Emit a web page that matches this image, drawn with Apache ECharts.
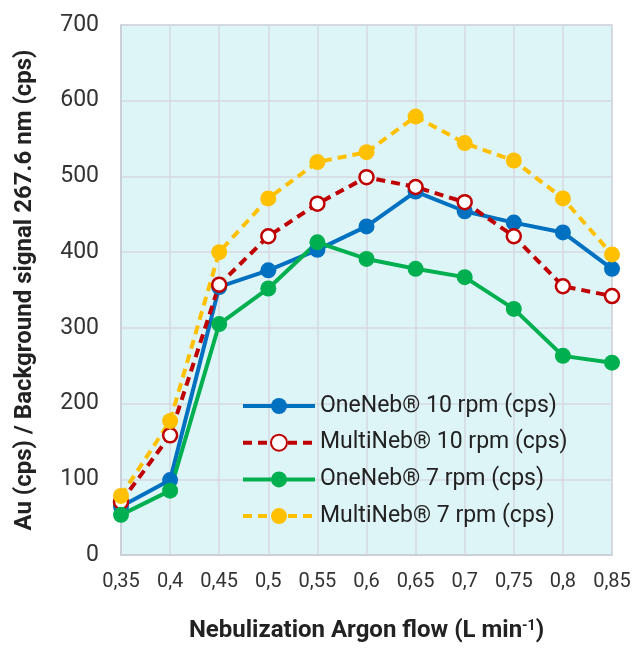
<!DOCTYPE html>
<html>
<head>
<meta charset="utf-8">
<script src="https://cdn.jsdelivr.net/npm/echarts@6/dist/echarts.min.js"></script>
<style>
  html, body { margin: 0; padding: 0; background: #fff; }
  #main { width: 644px; height: 648px; }
</style>
</head>
<body>
<div id="main"></div>
<script>
// flujo de argon (L/min)
var flows = ['0,35', '0,4', '0,45', '0,5', '0,55', '0,6', '0,65', '0,7', '0,75', '0,8', '0,85'];
var oneNeb10 = [64, 99, 354, 376, 403, 434, 480, 454, 439, 426, 378];
var multiNeb10 = [70, 158, 357, 421, 464, 499, 486, 466, 421, 355, 342];
var oneNeb7 = [53, 85, 305, 352, 413, 391, 378, 367, 325, 263, 254];
var multiNeb7 = [78, 177, 400, 471, 519, 532, 579, 544, 521, 471, 397];
var yTicks = [0, 100, 200, 300, 400, 500, 600, 700];

var FONT = 'Roboto';

function serie(name, data, color, dashed, hollow) {
    return {
        name: name,
        type: 'line',
        data: data,
        symbol: 'circle',
        symbolSize: hollow ? 14 : 16,
        showAllSymbol: true,
        lineStyle: { color: color, width: 4, type: dashed ? [9, 6] : 'solid' },
        itemStyle: {
            color: hollow ? '#ffffff' : color,
            borderColor: color,
            borderWidth: hollow ? 2.5 : 0
        },
        emphasis: { disabled: true }
    };
}

var myChart = echarts.init(document.getElementById('main'));
var option = {
    animation: false,
    textStyle: { fontFamily: FONT },
    grid: {
        left: 121, right: 32, top: 25, bottom: 91,
        show: true,
        backgroundColor: '#def5f8',
        borderColor: '#c9cdd5',
        borderWidth: 1.5
    },
    legend: {
        orient: 'vertical',
        left: 236, top: 389,
        itemWidth: 72, itemHeight: 20, itemGap: 12.7,
        lineStyle: { width: 4 },
        textStyle: { fontSize: 23, lineHeight: 24, color: '#222', fontFamily: FONT },
        data: ['OneNeb® 10 rpm (cps)', 'MultiNeb® 10 rpm (cps)', 'OneNeb® 7 rpm (cps)', 'MultiNeb® 7 rpm (cps)']
    },
    xAxis: {
        type: 'category',
        data: flows,
        boundaryGap: false,
        axisLine: { show: true, lineStyle: { color: '#c9cdd5', width: 1.5 } },
        axisTick: { show: false },
        axisLabel: { fontSize: 20, color: '#333', margin: 17, fontFamily: FONT },
        splitLine: { show: true, interval: 0, lineStyle: { color: '#d5d9e0', width: 1.5 } },
        name: '{a|Nebulization Argon flow (L min}{sup|-1}{a|)}',
        nameLocation: 'middle',
        nameGap: 64,
        nameTextStyle: {
            fontSize: 24, fontWeight: 'bold', color: '#222', fontFamily: FONT,
            rich: {
                a: { fontSize: 24, fontWeight: 'bold', color: '#222', fontFamily: FONT },
                sup: { fontSize: 14, fontWeight: 'bold', color: '#222', fontFamily: FONT, padding: [0, 0, 10, 0] }
            }
        }
    },
    yAxis: {
        type: 'value',
        min: yTicks[0], max: yTicks[yTicks.length - 1], interval: 100,
        axisLine: { show: true, lineStyle: { color: '#c9cdd5', width: 1.5 } },
        axisTick: { show: false },
        axisLabel: { fontSize: 23, color: '#333', margin: 22, fontFamily: FONT },
        splitLine: { show: true, lineStyle: { color: '#d5d9e0', width: 1.5 } },
        name: 'Au (cps) / Background signal 267.6 nm (cps)',
        nameLocation: 'middle',
        nameRotate: 90,
        nameGap: 84,
        nameTextStyle: { fontSize: 24, fontWeight: 'bold', color: '#222', fontFamily: FONT }
    },
    series: [
        serie('OneNeb® 10 rpm (cps)', oneNeb10, '#0070c0', false, false),
        serie('MultiNeb® 10 rpm (cps)', multiNeb10, '#c00000', true, true),
        serie('OneNeb® 7 rpm (cps)', oneNeb7, '#00b050', false, false),
        serie('MultiNeb® 7 rpm (cps)', multiNeb7, '#ffc000', true, false)
    ]
};
myChart.setOption(option);
</script>
</body>
</html>
